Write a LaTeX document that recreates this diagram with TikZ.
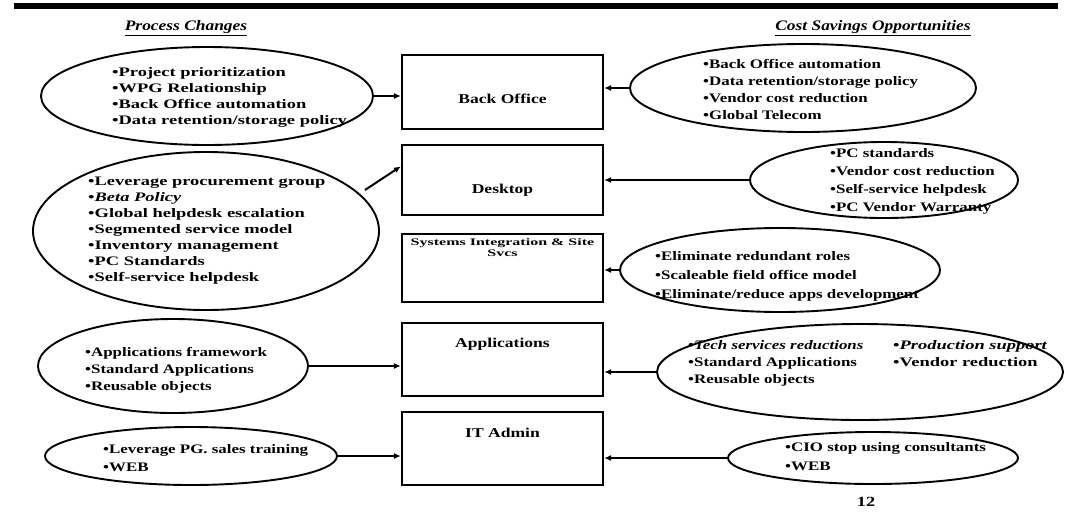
\documentclass[tikz,border=0pt]{standalone}
\usepackage{fontspec}
\setmainfont{Liberation Serif}[FakeStretch=1.3]
\newfontfamily\widefont{Liberation Serif}[FakeStretch=1.42]
\newfontfamily\sifont{Liberation Serif}[FakeStretch=1.6]
\newfontfamily\headfont{Liberation Serif}[FakeStretch=1.2]
\usetikzlibrary{shapes.geometric,arrows.meta,calc}
\begin{document}
\begin{tikzpicture}[x=1pt,y=-1pt,
  ell/.style={draw, ellipse, line width=1.9pt, inner sep=0pt},
  box/.style={draw, rectangle, line width=2.2pt, minimum width=201pt, inner sep=0pt},
  txt/.style={anchor=west, align=left, inner sep=0pt, font=\bfseries\fontsize{13}{17}\selectfont},
  lbl/.style={inner sep=0pt, font=\bfseries\fontsize{13.5}{14}\selectfont},
  arr/.style={line width=2pt, -{Latex[length=7pt,width=6pt]}},
  head/.style={inner sep=0pt, font=\headfont\bfseries\itshape\fontsize{14.5}{16}\selectfont}
]
\useasboundingbox (0,0) rectangle (1070,512);
\fill[white] (0,0) rectangle (1070,512);
% top bar
\draw[line width=6pt] (14,6) -- (1058,6);
% headings
\node[head] (hpc) at (186,28) {\underline{Process Changes}};
\node[head] (hcs) at (873,28) {\underline{Cost Savings Opportunities}};
% boxes
\node[box, minimum height=74pt] (bo) at (502.5,92) {};
\node[box, minimum height=70pt] (dt) at (502.5,180) {};
\node[box, minimum height=68pt] (si) at (502.5,268) {};
\node[box, minimum height=73pt] (ap) at (502.5,359.5) {};
\node[box, minimum height=73pt] (it) at (502.5,448.5) {};
\node[lbl] (bot) at (502.5,99) {Back Office};
\node[lbl] (dtt) at (502.5,190) {Desktop};
\node[lbl, align=center, font=\sifont\bfseries\fontsize{10}{11}\selectfont] (sit) at (502.5,248) {Systems Integration \& Site\\Svcs};
\node[lbl] (apt) at (502.5,344) {Applications};
\node[lbl] (itt) at (502.5,433) {IT Admin};
% left ellipses
\node[ell, minimum width=332pt, minimum height=98pt] (l1) at (207,96) {};
\node[txt, font=\widefont\bfseries\fontsize{13}{16}\selectfont] (l1t) at (112,97) {\textbullet Project prioritization\\\textbullet WPG Relationship\\\textbullet Back Office automation\\\textbullet Data retention/storage policy};
\node[ell, minimum width=346pt, minimum height=158pt] (l2) at (206,231) {};
\node[txt, font=\widefont\bfseries\fontsize{13}{16}\selectfont] (l2t) at (88,231) {\textbullet Leverage procurement group\\\textbullet \textit{Beta Policy}\\\textbullet Global helpdesk escalation\\\textbullet Segmented service model\\\textbullet Inventory management\\\textbullet PC Standards\\\textbullet Self-service helpdesk};
\node[ell, minimum width=270pt, minimum height=94pt] (l3) at (173,366) {};
\node[txt] (l3t) at (85,370) {\textbullet Applications framework\\\textbullet Standard Applications\\\textbullet Reusable objects};
\node[ell, minimum width=292pt, minimum height=58pt] (l4) at (191,456) {};
\node[txt, font=\bfseries\fontsize{13}{18}\selectfont] (l4t) at (103,458) {\textbullet Leverage PG. sales training\\\textbullet WEB};
% right ellipses
\node[ell, minimum width=346pt, minimum height=88pt] (r1) at (803,88) {};
\node[txt] (r1t) at (703,89) {\textbullet Back Office automation\\\textbullet Data retention/storage policy\\\textbullet Vendor cost reduction\\\textbullet Global Telecom};
\node[ell, minimum width=268pt, minimum height=76pt] (r2) at (884,180) {};
\node[txt, font=\bfseries\fontsize{13}{18}\selectfont] (r2t) at (830,181) {\textbullet PC standards\\\textbullet Vendor cost reduction\\\textbullet Self-service helpdesk\\\textbullet PC Vendor Warranty};
\node[ell, minimum width=320pt, minimum height=84pt] (r3) at (780,270) {};
\node[txt, font=\bfseries\fontsize{13}{19}\selectfont] (r3t) at (655,276) {\textbullet Eliminate redundant roles\\\textbullet Scaleable field office model\\\textbullet Eliminate/reduce apps development};
\node[ell, minimum width=406pt, minimum height=96pt] (r4) at (860,372) {};
\node[txt] (r4t) at (688,363) {\textbullet \textit{Tech services reductions}\\\textbullet Standard Applications\\\textbullet Reusable objects};
\node[txt, font=\widefont\bfseries\fontsize{13}{17}\selectfont] (r4u) at (893,354) {\textbullet \textit{Production support}\\\textbullet Vendor reduction};
\node[ell, minimum width=290pt, minimum height=52pt] (r5) at (873,458) {};
\node[txt, font=\bfseries\fontsize{13}{19}\selectfont] (r5t) at (785,457) {\textbullet CIO stop using consultants\\\textbullet WEB};
% page number
\node[lbl, font=\bfseries\fontsize{14}{14}\selectfont] (pg) at (866,502) {12};
% arrows
\coordinate (l2a) at (365,190);
\draw[arr] (l1.east) -- (bo.west |- l1.east);
\draw[arr] (l2a) -- ($(dt.north west)!0.31!(dt.south west)$);
\draw[arr] (l3.east) -- (ap.west |- l3.east);
\draw[arr] (l4.east) -- (it.west |- l4.east);
\draw[arr] (r1.west) -- (bo.east |- r1.west);
\draw[arr] (r2.west) -- (dt.east |- r2.west);
\draw[arr] (r3.west) -- (si.east |- r3.west);
\draw[arr] (r4.west) -- (ap.east |- r4.west);
\draw[arr] (r5.west) -- (it.east |- r5.west);
\end{tikzpicture}
\end{document}
